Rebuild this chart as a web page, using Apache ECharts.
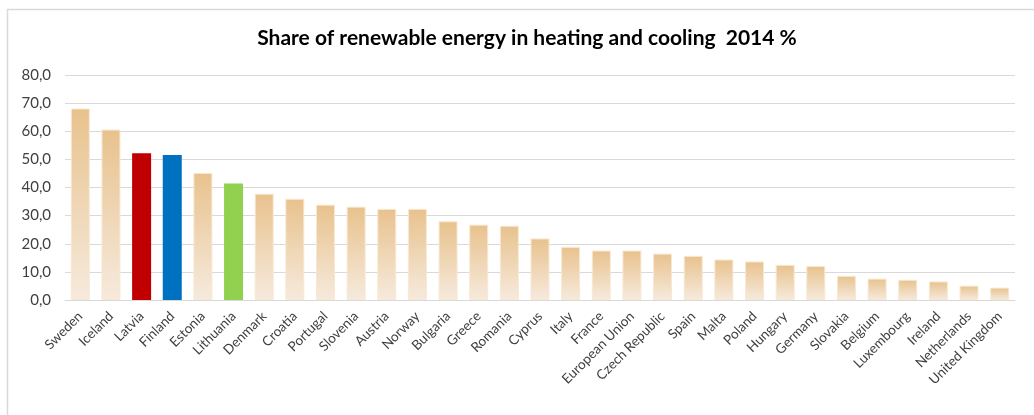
<!DOCTYPE html>
<html>
<head>
<meta charset="utf-8">
<script src="https://cdn.jsdelivr.net/npm/echarts@6/dist/echarts.min.js"></script>
<style>
  html, body { margin: 0; padding: 0; background: #fff; }
  #chart { width: 1034px; height: 415px; }
</style>
</head>
<body>
<div id="chart"></div>
<script>
// Share of renewable energy in heating and cooling, 2014 (%)
const countries = [
  'Sweden', 'Iceland', 'Latvia', 'Finland', 'Estonia', 'Lithuania', 'Denmark',
  'Croatia', 'Portugal', 'Slovenia', 'Austria', 'Norway', 'Bulgaria', 'Greece',
  'Romania', 'Cyprus', 'Italy', 'France', 'European Union', 'Czech Republic',
  'Spain', 'Malta', 'Poland', 'Hungary', 'Germany', 'Slovakia', 'Belgium',
  'Luxembourg', 'Ireland', 'Netherlands', 'United Kingdom'
];
const shares = [
  68.1, 60.6, 52.2, 51.6, 45.2, 41.4, 37.8,
  36.0, 33.9, 33.2, 32.4, 32.4, 28.0, 26.8,
  26.4, 21.9, 18.9, 17.6, 17.6, 16.5,
  15.7, 14.4, 13.7, 12.5, 12.1, 8.6, 7.6,
  7.2, 6.6, 5.1, 4.4
];
// highlighted countries
const highlight = { 'Latvia': '#C00000', 'Finland': '#0070C0', 'Lithuania': '#92D050' };
const yTicks = { min: 0, max: 80, interval: 10 };

const sandGradient = new echarts.graphic.LinearGradient(0, 0, 0, 1, [
  { offset: 0, color: '#E8C28D' },
  { offset: 1, color: '#F6EADD' }
]);

const barData = countries.map((c, i) => {
  const col = highlight[c];
  return {
    value: shares[i],
    itemStyle: col
      ? { color: col, borderColor: col, borderWidth: 0 }
      : { color: sandGradient, borderColor: '#F8E8D2', borderWidth: 1 }
  };
});

const chart = echarts.init(document.getElementById('chart'), null, { renderer: 'canvas' });
chart.setOption({
  animation: false,
  backgroundColor: '#ffffff',
  textStyle: { fontFamily: 'Lato, "Open Sans", sans-serif' },
  title: {
    text: 'Share of renewable energy in heating and cooling  2014 %',
    left: 522,
    top: 23,
    textAlign: 'center',
    textStyle: { fontSize: 21, fontWeight: 'bold', color: '#000000', fontFamily: 'Lato, sans-serif' }
  },
  graphic: [{
    type: 'rect',
    shape: { x: 7.5, y: 9.5, width: 1060, height: 430 },
    style: { fill: 'none', stroke: '#D9D9D9', lineWidth: 1.5 },
    silent: true
  }],
  grid: { left: 65, right: 19, top: 75, bottom: 115, containLabel: false },
  xAxis: {
    type: 'category',
    data: countries,
    axisLine: { show: true, lineStyle: { color: '#D9D9D9', width: 1 } },
    axisTick: { show: false },
    axisLabel: {
      interval: 0,
      rotate: 45,
      margin: 14,
      fontSize: 13.5,
      color: '#404040',
      fontFamily: 'Lato, "Open Sans", sans-serif'
    }
  },
  yAxis: {
    type: 'value',
    min: yTicks.min,
    max: yTicks.max,
    interval: yTicks.interval,
    axisLine: { show: false },
    axisTick: { show: false },
    splitLine: { lineStyle: { color: '#D9D9D9', width: 1 } },
    axisLabel: {
      margin: 14,
      fontSize: 15,
      color: '#404040',
      formatter: v => v.toFixed(1).replace('.', ',')
    }
  },
  series: [{
    type: 'bar',
    data: barData,
    barCategoryGap: '38%'
  }]
});
</script>
</body>
</html>
